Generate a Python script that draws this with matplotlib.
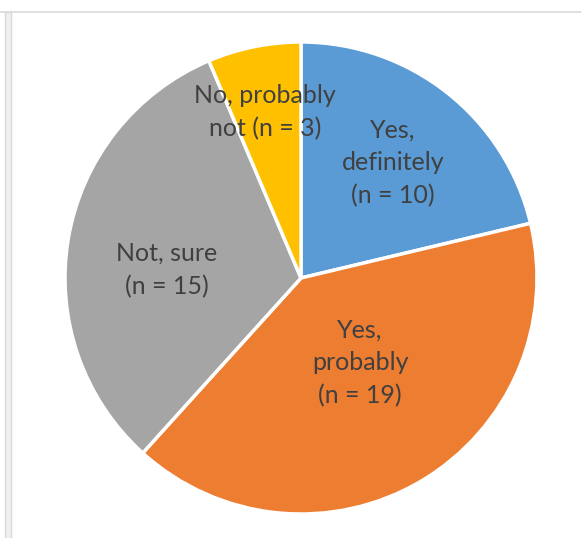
import matplotlib
matplotlib.use("Agg")
import matplotlib.pyplot as plt
from matplotlib.patches import Rectangle
from matplotlib.lines import Line2D

categories = ["Yes,\ndefinitely", "Yes,\nprobably", "Not, sure", "No, probably\nnot"]
counts = [10, 19, 15, 3]
colors = ["#5B9BD5", "#ED7D31", "#A5A5A5", "#FFC000"]
# label positions in pie units (radius = 1)
label_pos = [(0.39, 0.487), (0.25, -0.36), (-0.568, 0.034), (-0.153, 0.703)]

W, H = 581, 538
fig = plt.figure(figsize=(W / 100, H / 100), dpi=100)
fig.patch.set_facecolor("white")

cx, cy, r = 301, 538 - 278, 236
ax = fig.add_axes([(cx - r) / W, (cy - r) / H, 2 * r / W, 2 * r / H])
ax.pie(counts, colors=colors, startangle=90, counterclock=False,
       wedgeprops=dict(edgecolor="white", linewidth=2.5))
ax.set_xlim(-1, 1)
ax.set_ylim(-1, 1)
ax.set_aspect("equal")
ax.axis("off")

for cat, n, (x, y) in zip(categories, counts, label_pos):
    if cat.endswith("not"):
        txt = f"{cat} (n = {n})"
    else:
        txt = f"{cat}\n(n = {n})"
    ax.text(x, y, txt, ha="center", va="center", fontsize=18,
            family=["Lato", "DejaVu Sans"], color="#404040",
            linespacing=1.5)

# frame lines
fig.add_artist(Line2D([0, 1], [1 - 11.5 / H, 1 - 11.5 / H], color="#D9D9D9",
                      lw=1.2, transform=fig.transFigure))
fig.add_artist(Rectangle((5 / W, 0), 6 / W, 1 - 12 / H, transform=fig.transFigure,
                         facecolor="#F0F0F0", edgecolor="#D9D9D9", lw=1.0))

fig.savefig("out.png", dpi=100)
